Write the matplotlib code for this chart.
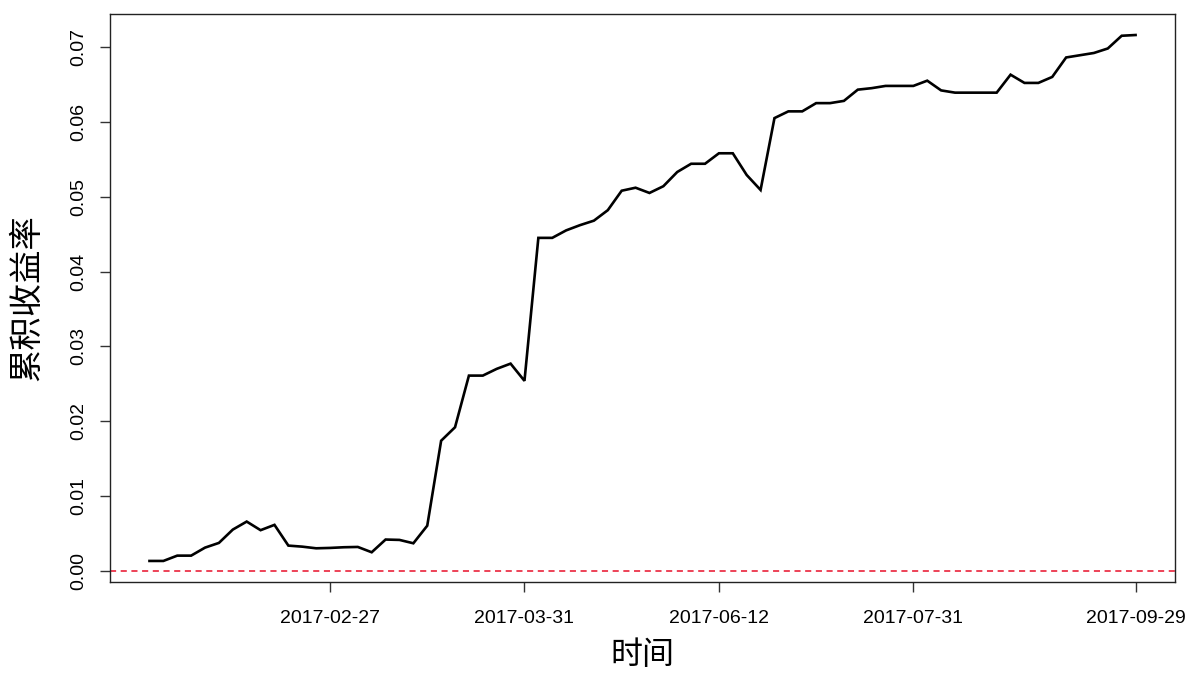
import numpy as np
import matplotlib
matplotlib.use("Agg")
import matplotlib.pyplot as plt

# cumulative return, one value per period
cum_return = [
    0.00134, 0.00134, 0.00205, 0.00205, 0.00312, 0.00375, 0.00553, 0.00660,
    0.00545, 0.00616, 0.00339, 0.00325, 0.00303, 0.00308, 0.00317, 0.00321,
    0.00250, 0.00420, 0.00415, 0.00370, 0.00605, 0.0174, 0.0192, 0.0261,
    0.0261, 0.0270, 0.0277, 0.0254, 0.0445, 0.0445, 0.0455, 0.0462,
    0.0468, 0.0482, 0.0508, 0.0512, 0.0505, 0.0514, 0.0533, 0.0544,
    0.0544, 0.0558, 0.0558, 0.0529, 0.0509, 0.0605, 0.0614, 0.0614,
    0.0625, 0.0625, 0.0628, 0.0643, 0.0645, 0.0648, 0.0648, 0.0648,
    0.0655, 0.0642, 0.0639, 0.0639, 0.0639, 0.0639, 0.0663, 0.0652,
    0.0652, 0.0660, 0.0686, 0.0689, 0.0692, 0.0698, 0.0715, 0.0716,
]
tick_idx = [14, 28, 42, 56, 72]
tick_labels = ["2017-02-27", "2017-03-31", "2017-06-12", "2017-07-31", "2017-09-29"]
y_ticks = [0.00, 0.01, 0.02, 0.03, 0.04, 0.05, 0.06, 0.07]

plt.rcParams['font.family'] = ['Liberation Sans', 'DejaVu Sans']

x = np.arange(1, len(cum_return) + 1)
y = np.array(cum_return)

fig = plt.figure(figsize=(11.87, 6.75), dpi=100)
ax = fig.add_axes([0.0927, 0.1378, 0.8972, 0.8415])

ax.plot(x, y, color='black', lw=1.9, solid_joinstyle='miter')
ax.axhline(0, color='#e8102a', lw=1.1, dashes=(4, 3))

# R-style 4% padding around the data range
xr = x.max() - x.min()
ax.set_xlim(x.min() - 0.04 * xr, x.max() + 0.04 * xr)
yr = y.max() - y.min()
ax.set_ylim(y.min() - 0.04 * yr, y.max() + 0.04 * yr)

ax.set_xticks(tick_idx)
ax.set_xticklabels(tick_labels, fontsize=14)
ax.set_yticks(y_ticks)
ax.set_yticklabels([f"{v:.2f}" for v in y_ticks], fontsize=14, rotation=90, va='center')
ax.tick_params(direction='out', length=7.2, width=1, color='#333333')
ax.tick_params(axis='x', pad=13)
ax.tick_params(axis='y', pad=9)

for s in ax.spines.values():
    s.set_color('#222222')
    s.set_linewidth(1)

ax.set_xlabel("时间", fontsize=23, family=['Noto Sans CJK SC'], va='center')
ax.set_ylabel("累积收益率", fontsize=24, family=['Noto Sans CJK SC'], va='center')
ax.xaxis.set_label_coords(0.5, -(655 - 582) / 568)
ax.yaxis.set_label_coords((27 - 110) / 1065, 0.5)

fig.savefig("out.png", dpi=100)
